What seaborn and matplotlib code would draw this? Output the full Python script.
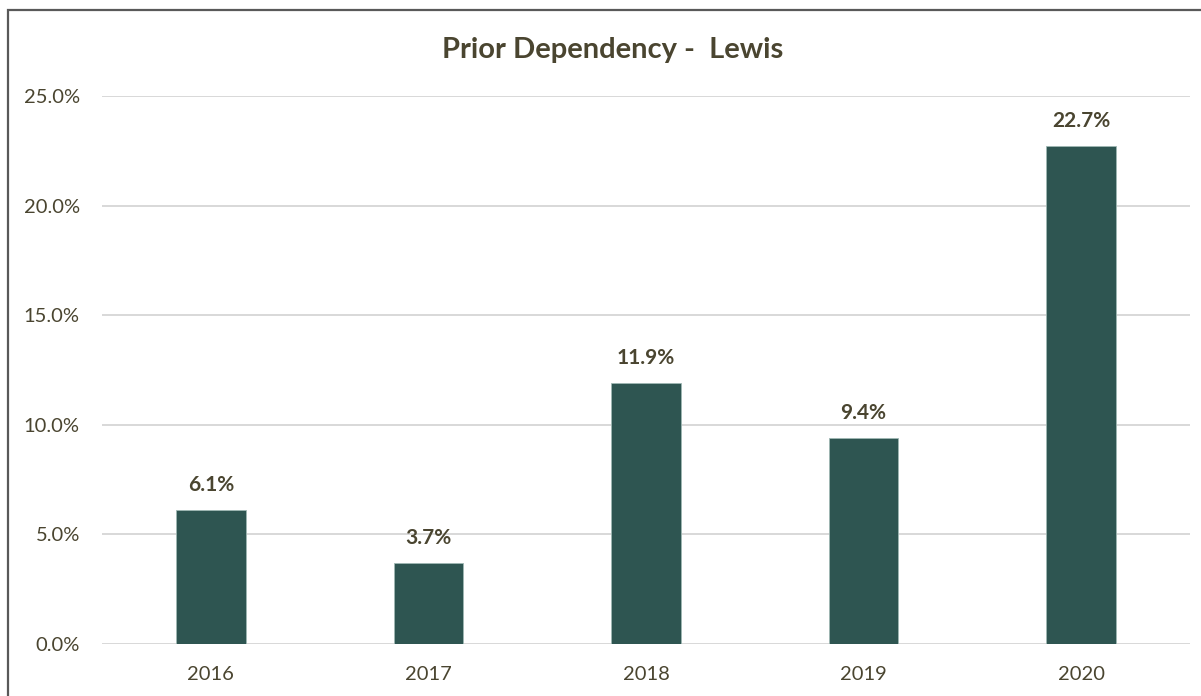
import matplotlib
matplotlib.use("Agg")
import matplotlib.pyplot as plt
import seaborn as sns
import pandas as pd
from matplotlib.patches import Rectangle
from matplotlib.ticker import FuncFormatter, MultipleLocator

years = ["2016", "2017", "2018", "2019", "2020"]
values = [6.1, 3.7, 11.9, 9.4, 22.7]
title = "Prior Dependency -  Lewis"

bar_color = "#2e5551"
text_color = "#4a4530"
grid_color = "#d6d6d6"

sns.set_theme(style="white")
plt.rcParams["font.family"] = ["Lato", "DejaVu Sans"]

df = pd.DataFrame({"year": years, "value": values})

fig = plt.figure(figsize=(12.01, 6.96), dpi=100)
ax = fig.add_axes([102 / 1201, 52 / 696, 1088 / 1201, 548 / 696])

sns.barplot(data=df, x="year", y="value", color=bar_color, width=0.32,
            saturation=1, edgecolor="#9fb8b4", linewidth=0.6, ax=ax, zorder=3)

ax.set_ylim(0, 25)
ax.yaxis.set_major_locator(MultipleLocator(5))
ax.yaxis.set_major_formatter(FuncFormatter(lambda v, _: f"{v:.1f}%"))
ax.grid(axis="y", color=grid_color, linewidth=1.3, zorder=0)
ax.set_axisbelow(True)
for s in ax.spines.values():
    s.set_visible(False)
ax.set_xlabel("")
ax.set_ylabel("")
ax.tick_params(axis="both", length=0, labelsize=14.5, labelcolor=text_color)
ax.tick_params(axis="x", pad=16)
ax.tick_params(axis="y", pad=16)

for i, v in enumerate(values):
    ax.annotate(f"{v:.1f}%", (i, v), xytext=(0, 11), textcoords="offset points",
                ha="center", va="bottom", fontsize=15, fontweight="bold",
                color=text_color)

fig.text(0.51, 1 - 50 / 696, title, ha="center", va="center", fontsize=21,
         fontweight="bold", color=text_color)

# outer frame, running past the right and bottom edges
fig.patches.append(Rectangle((8 / 1201, -0.05), 1.2, 1 - 10 / 696 + 0.05,
                             transform=fig.transFigure, fill=False,
                             edgecolor="#595959", linewidth=1.6))

fig.savefig("out.png", dpi=100)
